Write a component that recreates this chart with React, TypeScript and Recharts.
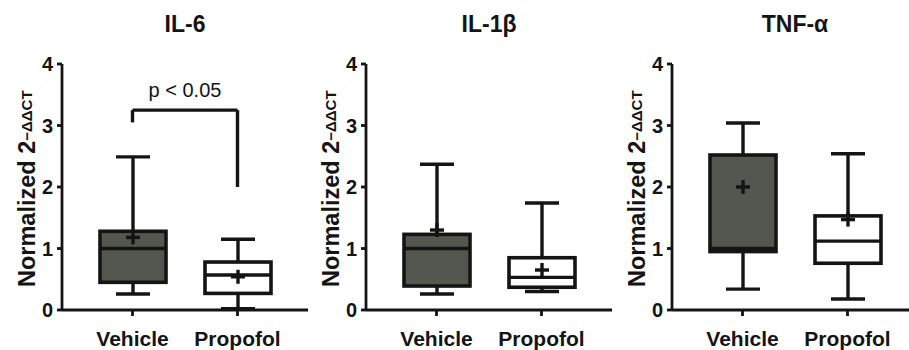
import React from 'react';
import { ComposedChart, Bar, XAxis, YAxis, ReferenceLine } from 'recharts';

const categories = ['Vehicle', 'Propofol'];
const titles = ['IL-6', 'IL-1β', 'TNF-α'];
const yTicks = [0, 1, 2, 3, 4];

// IL-6
const il6Min = [0.26, 0.02];
const il6Q1 = [0.45, 0.27];
const il6Median = [1.0, 0.57];
const il6Q3 = [1.28, 0.78];
const il6Max = [2.49, 1.15];
const il6Mean = [1.18, 0.54];

// IL-1β
const il1bMin = [0.26, 0.3];
const il1bQ1 = [0.39, 0.37];
const il1bMedian = [1.0, 0.53];
const il1bQ3 = [1.23, 0.85];
const il1bMax = [2.37, 1.74];
const il1bMean = [1.3, 0.65];

// TNF-α
const tnfMin = [0.34, 0.18];
const tnfQ1 = [0.95, 0.76];
const tnfMedian = [1.0, 1.12];
const tnfQ3 = [2.52, 1.53];
const tnfMax = [3.04, 2.54];
const tnfMean = [2.0, 1.47];

// significance (IL-6)
const sigY = 3.25;
const sigLeftEnd = 3.05;
const sigRightEnd = 2.0;
const sigText = 'p < 0.05';

const FONT = '"Liberation Sans", Arial, Helvetica, sans-serif';
const INK = '#141414';
const boxFills = ['#545650', '#ffffff'];

function buildData(min: number[], q1: number[], med: number[], q3: number[], max: number[], mean: number[]) {
  return categories.map((name, i) => ({
    name,
    range: [min[i], max[i]],
    min: min[i],
    q1: q1[i],
    median: med[i],
    q3: q3[i],
    max: max[i],
    mean: mean[i],
    fill: boxFills[i],
  }));
}

const panels = [
  buildData(il6Min, il6Q1, il6Median, il6Q3, il6Max, il6Mean),
  buildData(il1bMin, il1bQ1, il1bMedian, il1bQ3, il1bMax, il1bMean),
  buildData(tnfMin, tnfQ1, tnfMedian, tnfQ3, tnfMax, tnfMean),
];

const BoxShape = (props: any) => {
  const { x, y, width, height, payload } = props;
  if (!payload) return null;
  const { min, max, q1, median, q3, mean, fill } = payload;
  const k = height / (max - min);
  const py = (v: number) => y + (max - v) * k;
  const cx = x + width / 2;
  const capHalf = 17;
  const plus = 7;
  const sw = 3.4;
  return (
    <g>
      <line x1={cx} x2={cx} y1={py(max)} y2={py(min)} stroke={INK} strokeWidth={sw} />
      <line x1={cx - capHalf} x2={cx + capHalf} y1={py(max)} y2={py(max)} stroke={INK} strokeWidth={sw} />
      <line x1={cx - capHalf} x2={cx + capHalf} y1={py(min)} y2={py(min)} stroke={INK} strokeWidth={sw} />
      <rect x={x} y={py(q3)} width={width} height={py(q1) - py(q3)} fill={fill} stroke={INK} strokeWidth={3.6} />
      <line x1={x} x2={x + width} y1={py(median)} y2={py(median)} stroke={INK} strokeWidth={3.4} />
      <line x1={cx - plus} x2={cx + plus} y1={py(mean)} y2={py(mean)} stroke={INK} strokeWidth={3.4} />
      <line x1={cx} x2={cx} y1={py(mean) - plus} y2={py(mean) + plus} stroke={INK} strokeWidth={3.4} />
    </g>
  );
};

const YLabel = (props: any) => {
  const vb = props.viewBox || { x: 0, y: 64, width: 62, height: 246 };
  const bx = vb.x + vb.width - 27;
  const by = vb.y + vb.height - 23;
  return (
    <text
      x={bx}
      y={by}
      transform={`rotate(-90, ${bx}, ${by})`}
      textAnchor="start"
      fontFamily={FONT}
      fontWeight="bold"
      fill={INK}
      fontSize={23.5}
    >
      <tspan>Normalized 2</tspan>
      <tspan fontSize={15} dy={-3}>−ΔΔCT</tspan>
    </text>
  );
};

const CHART_W = 310;
const CHART_H = 350;
const offsets = [0, 304, 610];

function Panel({ data, index }: { data: any[]; index: number }) {
  return (
    <ComposedChart
      width={CHART_W}
      height={CHART_H}
      data={data}
      margin={{ top: 64, right: 2, bottom: 0, left: 0 }}
    >
      <XAxis
        dataKey="name"
        type="category"
        padding={{ left: 18, right: 18 }}
        height={40}
        tickSize={6}
        tickMargin={15}
        axisLine={{ stroke: INK, strokeWidth: 2.8 }}
        tickLine={{ stroke: INK, strokeWidth: 2.8 }}
        tick={{ fontSize: 21, fontWeight: 'bold', fill: INK, fontFamily: FONT }}
        interval={0}
      />
      <YAxis
        type="number"
        domain={[0, 4]}
        ticks={yTicks}
        width={62}
        tickSize={5}
        tickMargin={4}
        axisLine={{ stroke: INK, strokeWidth: 2.8 }}
        tickLine={{ stroke: INK, strokeWidth: 2.8 }}
        tick={{ fontSize: 20, fontWeight: 'bold', fill: INK, fontFamily: FONT }}
        interval={0}
        label={(p: any) => <YLabel {...p} />}
      />
      <Bar dataKey="range" barSize={66} shape={<BoxShape />} isAnimationActive={false} />
      {index === 0 && (
        <ReferenceLine
          segment={[{ x: categories[0], y: sigY }, { x: categories[1], y: sigY }]}
          stroke={INK}
          strokeWidth={3.4}
          label={{ value: sigText, position: 'top', offset: 13, fontSize: 20, fill: INK, fontFamily: FONT }}
        />
      )}
      {index === 0 && (
        <ReferenceLine
          segment={[{ x: categories[0], y: sigY }, { x: categories[0], y: sigLeftEnd }]}
          stroke={INK}
          strokeWidth={3.4}
        />
      )}
      {index === 0 && (
        <ReferenceLine
          segment={[{ x: categories[1], y: sigY }, { x: categories[1], y: sigRightEnd }]}
          stroke={INK}
          strokeWidth={3.4}
        />
      )}
    </ComposedChart>
  );
}

export default function App() {
  return (
    <div
      style={{
        position: 'absolute',
        left: 0,
        top: 0,
        width: 909,
        height: 350,
        overflow: 'hidden',
        background: '#ffffff',
      }}
    >
      {panels.map((data, i) => (
        <div key={i} style={{ position: 'absolute', left: offsets[i], top: 0, width: CHART_W, height: CHART_H }}>
          <div
            style={{
              position: 'absolute',
              left: 62,
              width: 246,
              top: 13,
              textAlign: 'center',
              fontFamily: FONT,
              fontWeight: 'bold',
              fontSize: 23,
              lineHeight: '23px',
              color: INK,
            }}
          >
            {titles[i]}
          </div>
          <Panel data={data} index={i} />
        </div>
      ))}
    </div>
  );
}
